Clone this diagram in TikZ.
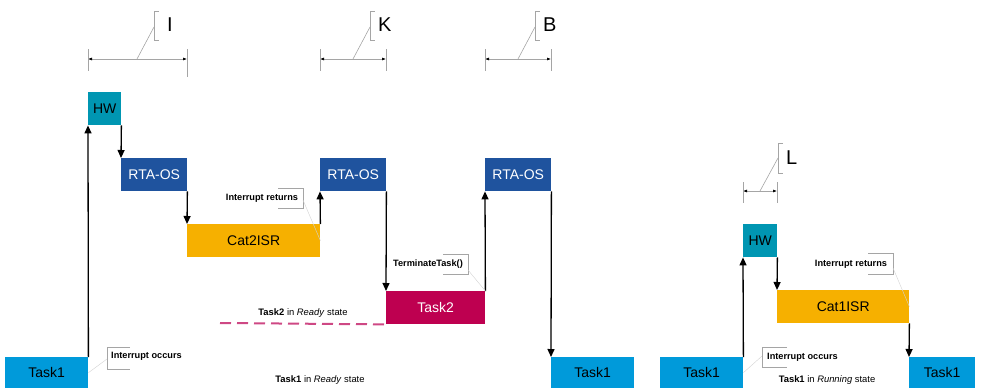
\documentclass[tikz,border=0pt]{standalone}
\usepackage{fontspec}
\setmainfont{Liberation Sans}
\usetikzlibrary{arrows.meta}
\definecolor{taskblue}{RGB}{0,154,218}
\definecolor{hwteal}{RGB}{0,150,178}
\definecolor{osblue}{RGB}{31,83,158}
\definecolor{isrorange}{RGB}{246,176,0}
\definecolor{taskred}{RGB}{190,0,80}
\definecolor{readypink}{RGB}{206,72,132}
\definecolor{dimgray}{RGB}{165,165,165}
\begin{document}
\begin{tikzpicture}[x=1pt,y=-1pt,
    box/.style={anchor=north west,inner sep=0pt,font=\fontsize{14}{16}\selectfont},
    flow/.style={black,line width=1.3pt,-{Triangle[length=8pt,width=7pt]}},
    dimline/.style={dimgray,line width=0.6pt,{Latex[black,length=4pt,width=3pt]}-{Latex[black,length=4pt,width=3pt]}},
    tick/.style={dimgray,line width=0.6pt},
    leader/.style={gray!35,line width=0.4pt},
    dimlabel/.style={anchor=west,inner sep=0pt,font=\fontsize{20}{22}\selectfont},
    note/.style={inner sep=0pt,font=\fontsize{9.2}{11}\selectfont\bfseries},
    state/.style={inner sep=0pt,font=\fontsize{9.4}{11}\selectfont}]
  \useasboundingbox (0,0) rectangle (985,388);

  % boxes, left part
  \node[box,fill=taskblue,minimum width=83,minimum height=31] (t1a) at (5,357) {Task1};
  \node[box,fill=hwteal,minimum width=33,minimum height=33] (hw1) at (88,92) {HW};
  \node[box,fill=osblue,text=white,minimum width=66,minimum height=33] (os1) at (121,158) {RTA-OS};
  \node[box,fill=isrorange,minimum width=133,minimum height=33] (isr2) at (187,224) {Cat2ISR};
  \node[box,fill=osblue,text=white,minimum width=66,minimum height=33] (os2) at (320,158) {RTA-OS};
  \node[box,fill=taskred,text=white,minimum width=99,minimum height=33] (t2) at (386,291) {Task2};
  \node[box,fill=osblue,text=white,minimum width=66,minimum height=33] (os3) at (485,158) {RTA-OS};
  \node[box,fill=taskblue,minimum width=83,minimum height=31] (t1b) at (551,357) {Task1};

  % boxes, right part
  \node[box,fill=taskblue,minimum width=83,minimum height=31] (t1c) at (660,357) {Task1};
  \node[box,fill=hwteal,minimum width=34,minimum height=33] (hw2) at (743,224) {HW};
  \node[box,fill=isrorange,minimum width=132,minimum height=33] (isr1) at (777,290) {Cat1ISR};
  \node[box,fill=taskblue,minimum width=66,minimum height=31] (t1d) at (909,357) {Task1};

  \begin{scope}[flow]
    \draw (t1a.north east) -- (hw1.south west);
    \draw (hw1.south east) -- (os1.north west);
    \draw (os1.south east) -- (isr2.north west);
    \draw (isr2.north east) -- (os2.south west);
    \draw (os2.south east) -- (t2.north west);
    \draw (t2.north east) -- (os3.south west);
    \draw (os3.south east) -- (t1b.north west);
    \draw (t1c.north east) -- (hw2.south west);
    \draw (hw2.south east) -- (isr1.north west);
    \draw (isr1.south east) -- (t1d.north west);
  \end{scope}

  % states
  \coordinate (rdy) at (220,323);
  \draw[readypink,line width=2pt,dash pattern=on 11pt off 6pt] (rdy) -- (t2.south west);
  \node[state] (t2rdy) at (303,313) {\textbf{Task2} in \textit{Ready} state};
  \node[state] (t1rdy) at (320,380) {\textbf{Task1} in \textit{Ready} state};
  \node[state] (t1run) at (827,380) {\textbf{Task1} in \textit{Running} state};
  \draw[gray!30,line width=0.5pt,dash pattern=on 3pt off 3pt] (t1a.south east) -- (t1b.south west);
  \draw[gray!30,line width=0.5pt,dash pattern=on 3pt off 3pt] (t1c.south east) -- (t1d.south west);

  % callouts
  \node[note] (ret1) at (262,198) {Interrupt returns};
  \draw[tick] (278,188) -- (303,188) -- (303,208) -- (278,208);
  \draw[leader] (303,200) -- (isr2.east);
  \node[note,anchor=west] (occ1) at (111,356) {Interrupt occurs};
  \draw[tick] (130,347) -- (107,347) -- (107,369) -- (130,369);
  \draw[leader] (107,359) -- (t1a.east);
  \node[note] (term) at (428,264) {TerminateTask()};
  \draw[tick] (443,254) -- (468,254) -- (468,274) -- (443,274);
  \draw[leader] (468,270) -- (t2.north east);
  \node[note] (ret2) at (851,264) {Interrupt returns};
  \draw[tick] (868,253) -- (893,253) -- (893,274) -- (868,274);
  \draw[leader] (893,268) -- (isr1.east);
  \node[note,anchor=west] (occ2) at (767,357) {Interrupt occurs};
  \draw[tick] (787,347) -- (762,347) -- (762,367) -- (787,367);
  \draw[leader] (762,356) -- (t1c.east);

  % dimensions
  \coordinate (iL) at (88,59); \coordinate (iR) at (187,59);
  \draw[dimline] (iL) -- (iR);
  \draw[tick] (iL) ++(0,-10) -- ++(0,22);
  \draw[tick] (iR) ++(0,-10) -- ++(0,28);
  \draw[tick] (137,59) -- (154,27);
  \draw[tick] (159,11) -- (154,11) -- (154,40) -- (159,40);
  \node[dimlabel] (dimI) at (167,25) {I};

  \coordinate (kL) at (320,59); \coordinate (kR) at (386,59);
  \draw[dimline] (kL) -- (kR);
  \draw[tick] (kL) ++(0,-10) -- ++(0,22);
  \draw[tick] (kR) ++(0,-10) -- ++(0,22);
  \draw[tick] (353,59) -- (370,27);
  \draw[tick] (375,11) -- (370,11) -- (370,40) -- (375,40);
  \node[dimlabel] (dimK) at (378,25) {K};

  \coordinate (bL) at (485,59); \coordinate (bR) at (551,59);
  \draw[dimline] (bL) -- (bR);
  \draw[tick] (bL) ++(0,-10) -- ++(0,22);
  \draw[tick] (bR) ++(0,-10) -- ++(0,22);
  \draw[tick] (518,59) -- (535,27);
  \draw[tick] (540,11) -- (535,11) -- (535,40) -- (540,40);
  \node[dimlabel] (dimB) at (543,25) {B};

  \coordinate (lL) at (743,191); \coordinate (lR) at (777,191);
  \draw[dimline] (lL) -- (lR);
  \draw[tick] (lL) ++(0,-9) -- ++(0,21);
  \draw[tick] (lR) ++(0,-9) -- ++(0,21);
  \draw[tick] (760,191) -- (778,158);
  \draw[tick] (783,143) -- (778,143) -- (778,173) -- (783,173);
  \node[dimlabel] (dimL) at (786,158) {L};
\end{tikzpicture}
\end{document}
